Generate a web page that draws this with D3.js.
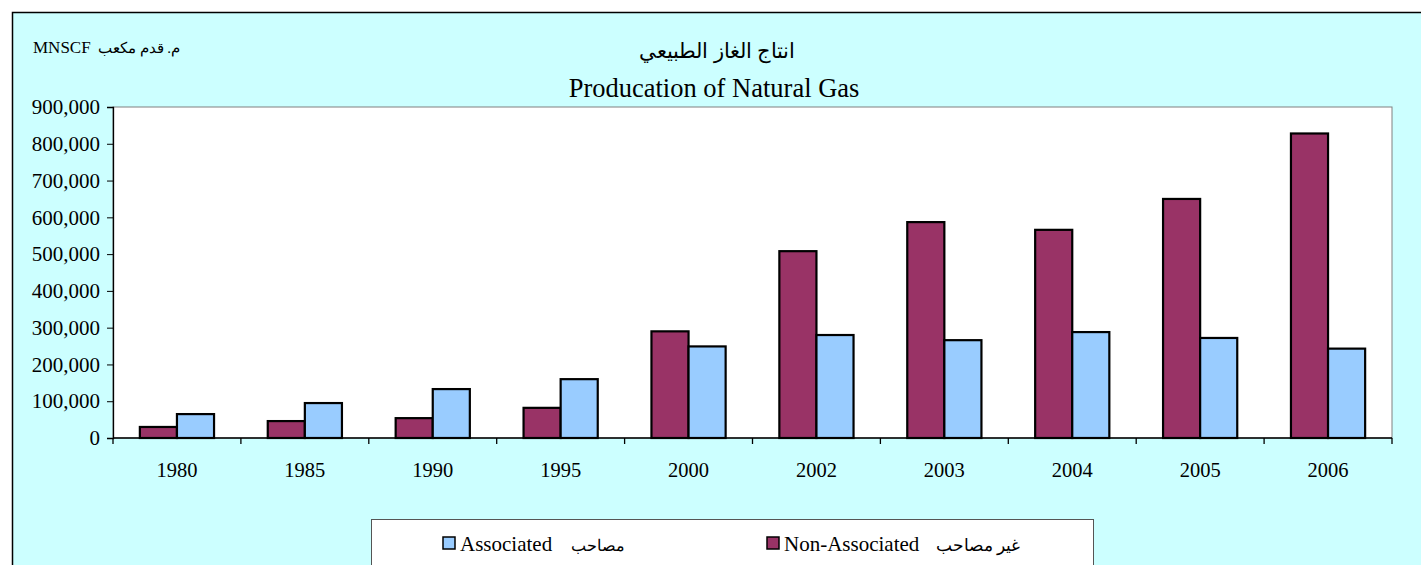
<!DOCTYPE html>
<html>
<head>
<meta charset="utf-8">
<script src="https://cdn.jsdelivr.net/npm/d3@7"></script>
<style>
  body { margin: 0; background: #fff; }
  text { font-family: "Liberation Serif", "Times New Roman", serif; }
</style>
</head>
<body>
<div id="chart"></div>
<script>
var years = ["1980", "1985", "1990", "1995", "2000", "2002", "2003", "2004", "2005", "2006"];
var nonAssociated = [30000, 46000, 54000, 82000, 290000, 508000, 587000, 566000, 650000, 828000];
var associated = [65000, 95000, 133000, 160000, 249000, 280000, 266000, 288000, 272000, 243000];
var yTicks = [0, 100000, 200000, 300000, 400000, 500000, 600000, 700000, 800000, 900000];

function init() {
    var W = 1421, H = 565;
    var margin = { top: 107, right: 29, bottom: 127, left: 113 },
        width = W - margin.left - margin.right,
        height = H - margin.top - margin.bottom;

    var svg = d3.select("#chart")
        .append("svg")
        .attr("width", W)
        .attr("height", H);

    // chart area background
    svg.append("rect")
        .attr("x", 12.5).attr("y", 12.5)
        .attr("width", W + 20).attr("height", H + 20)
        .style("fill", "#CCFFFF")
        .style("stroke", "#000")
        .style("stroke-width", 1.5);

    // unit label
    svg.append("text")
        .attr("x", 33).attr("y", 53)
        .style("font-size", "17px")
        .text("MNSCF");
    svg.append("text")
        .attr("x", 180).attr("y", 53)
        .attr("text-anchor", "end")
        .style("font-size", "15px")
        .text("م. قدم مكعب");

    // titles
    svg.append("text")
        .attr("x", 717).attr("y", 58)
        .attr("text-anchor", "middle")
        .style("font-size", "21px")
        .text("انتاج الغاز الطبيعي");
    svg.append("text")
        .attr("x", 714).attr("y", 97)
        .attr("text-anchor", "middle")
        .style("font-size", "26.5px")
        .text("Producation of Natural Gas");

    var g = svg.append("g")
        .attr("transform", "translate(" + margin.left + "," + margin.top + ")");

    g.append("rect")
        .attr("width", width).attr("height", height)
        .style("fill", "#fff")
        .style("stroke", "#808080")
        .style("stroke-width", 1);

    var x0 = d3.scaleBand()
        .domain(years)
        .range([0, width])
        .paddingInner(0.42)
        .paddingOuter(0.21);

    var x1 = d3.scaleBand()
        .domain(["non", "assoc"])
        .range([0, x0.bandwidth()]);

    var y = d3.scaleLinear()
        .domain([0, 900000])
        .range([height, 0]);

    var yAxis = g.append("g")
        .call(d3.axisLeft(y).tickValues(yTicks).tickFormat(d3.format(",")).tickSize(6).tickPadding(7));
    yAxis.select(".domain").style("stroke", "#000").style("stroke-width", 1.3);
    yAxis.selectAll("text").style("font-size", "21px").style("font-family", "Liberation Serif");

    var rows = years.map(function (yr, i) {
        return { year: yr, non: nonAssociated[i], assoc: associated[i] };
    });

    var colors = { non: "#993366", assoc: "#99CCFF" };

    var groups = g.selectAll(".grp")
        .data(rows)
        .enter()
        .append("g")
        .attr("transform", function (d) { return "translate(" + x0(d.year) + ",0)"; });

    groups.selectAll("rect")
        .data(function (d) { return [{ k: "non", v: d.non }, { k: "assoc", v: d.assoc }]; })
        .enter()
        .append("rect")
        .attr("x", function (d) { return x1(d.k); })
        .attr("y", function (d) { return y(d.v); })
        .attr("width", x1.bandwidth())
        .attr("height", function (d) { return height - y(d.v); })
        .style("fill", function (d) { return colors[d.k]; })
        .style("stroke", "#000")
        .style("stroke-width", 2.2);

    // x axis with ticks between categories
    var step = x0.step();
    var xAxis = g.append("g").attr("transform", "translate(0," + height + ")");
    xAxis.append("line")
        .attr("x1", 0).attr("x2", width)
        .style("stroke", "#000").style("stroke-width", 1.3);
    xAxis.selectAll(".tk")
        .data(d3.range(years.length + 1))
        .enter()
        .append("line")
        .attr("x1", function (i) { return i * step; })
        .attr("x2", function (i) { return i * step; })
        .attr("y1", 0).attr("y2", 6)
        .style("stroke", "#000").style("stroke-width", 1.3);
    xAxis.selectAll(".lbl")
        .data(years)
        .enter()
        .append("text")
        .attr("x", function (d) { return x0(d) + x0.bandwidth() / 2; })
        .attr("y", 39)
        .attr("text-anchor", "middle")
        .style("font-size", "20.5px")
        .text(function (d) { return d; });

    // legend
    var lg = svg.append("g");
    lg.append("rect")
        .attr("x", 371.5).attr("y", 519.5)
        .attr("width", 722).attr("height", 70)
        .style("fill", "#fff")
        .style("stroke", "#555")
        .style("stroke-width", 1);

    var items = [
        { k: "assoc", x: 443, en: "Associated", ar: "مصاحب", arEnd: 625 },
        { k: "non", x: 767, en: "Non-Associated", ar: "غير مصاحب", arEnd: 1020 }
    ];
    items.forEach(function (it) {
        lg.append("rect")
            .attr("x", it.x).attr("y", 537)
            .attr("width", 12).attr("height", 12)
            .style("fill", colors[it.k])
            .style("stroke", "#000").style("stroke-width", 1.5);
        lg.append("text")
            .attr("x", it.x + 17).attr("y", 551)
            .style("font-size", "21px")
            .text(it.en);
        lg.append("text")
            .attr("x", it.arEnd).attr("y", 551)
            .attr("text-anchor", "end")
            .style("font-size", it.k === "assoc" ? "15.5px" : "17px")
            .text(it.ar);
    });
}

window.onload = init;
</script>
</body>
</html>
